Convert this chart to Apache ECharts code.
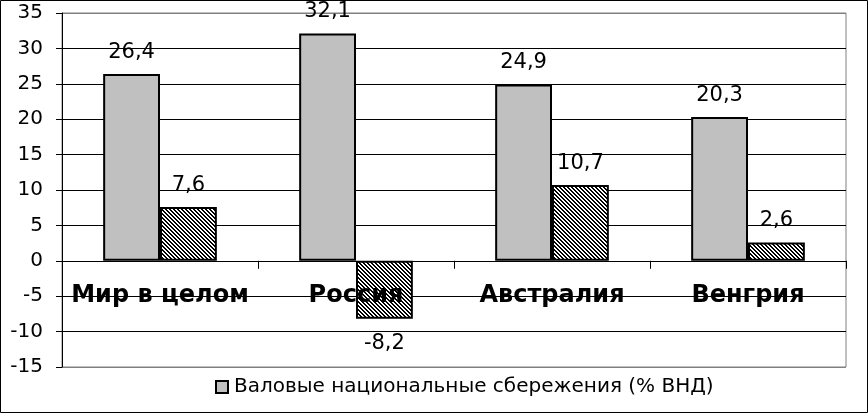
<!DOCTYPE html>
<html>
<head>
<meta charset="utf-8">
<script src="https://cdn.jsdelivr.net/npm/echarts@6/dist/echarts.min.js"></script>
<style>
html,body{margin:0;padding:0;background:#fff;}
#c{width:868px;height:413px;}
</style>
</head>
<body>
<div id="c"></div>
<script>
var categories = ['Мир в целом', 'Россия', 'Австралия', 'Венгрия'];
var grossSavings = [26.4, 32.1, 24.9, 20.3];
var netSavings = [7.6, -8.2, 10.7, 2.6];
var seriesNames = ['Валовые национальные сбережения (% ВНД)', 'Чистые национальные сбережения (% ВНД)'];
var categoryLabelLevel = -5;
var yMin = -15, yMax = 35, yStep = 5;

var FONT = '"DejaVu Sans", "Liberation Sans", Arial, sans-serif';

// hatch pattern: diagonal "\" lines
var pc = document.createElement('canvas');
pc.width = 4; pc.height = 4;
var pctx = pc.getContext('2d');
var img = pctx.createImageData(4, 4);
for (var y = 0; y < 4; y++) {
  for (var x = 0; x < 4; x++) {
    var m = ((x - y) % 4 + 4) % 4;
    var v = (m === 0 || m === 1) ? 0 : 255;
    var i = (y * 4 + x) * 4;
    img.data[i] = v; img.data[i+1] = v; img.data[i+2] = v; img.data[i+3] = 255;
  }
}
pctx.putImageData(img, 0, 0);

function fmt(p) { return String(p.value).replace('.', ','); }

var splitColors = [];
for (var k = yMin; k <= yMax; k += yStep) {
  splitColors.push((k === yMin || k === yMax) ? '#808080' : '#000000');
}

var chart = echarts.init(document.getElementById('c'));
chart.setOption({
  animation: false,
  textStyle: { fontFamily: FONT },
  grid: { left: 62, right: 22, top: 13, bottom: 46, show: true, borderColor: '#808080', borderWidth: 1 },
  legend: {
    data: [seriesNames[0]],
    bottom: 11,
    left: 210,
    itemWidth: 12, itemHeight: 12,
    itemGap: 6,
    icon: 'rect',
    textStyle: { fontSize: 20, color: '#000', fontFamily: FONT, padding: [0, 0, 0, 1] }
  },
  xAxis: {
    type: 'category',
    data: categories,
    axisLine: { onZero: true, lineStyle: { color: '#000', width: 1 } },
    axisTick: { show: true, length: 8, inside: false, lineStyle: { color: '#000' } },
    axisLabel: { show: false },
    splitLine: { show: false }
  },
  yAxis: {
    type: 'value',
    min: yMin, max: yMax, interval: yStep,
    axisLine: { show: true, lineStyle: { color: '#000', width: 1 } },
    axisTick: { show: true, length: 6, lineStyle: { color: '#000' } },
    axisLabel: { fontSize: 20, color: '#000', margin: 19, fontFamily: FONT },
    splitLine: { show: true, lineStyle: { color: splitColors, width: 1 } }
  },
  series: [
    {
      name: 'categoryLabels',
      type: 'scatter',
      z: 5,
      symbolSize: 0,
      silent: true,
      itemStyle: { opacity: 1 },
      data: categories.map(function (c) { return [c, categoryLabelLevel]; }),
      label: {
        show: true, position: 'inside', offset: [0, -4], opacity: 1,
        fontSize: 24, fontWeight: 'bold', color: '#000000', fontFamily: FONT,
        textBorderWidth: 0, textBorderColor: 'transparent',
        formatter: function (p) { return categories[p.dataIndex]; }
      },
      labelLayout: { hideOverlap: false }
    },
    {
      name: seriesNames[0],
      type: 'bar',
      z: 2,
      data: grossSavings,
      barGap: '0%',
      barCategoryGap: '42%',
      itemStyle: { color: '#c0c0c0', borderColor: '#000', borderWidth: 2 },
      label: { show: true, position: 'top', distance: 11, fontSize: 21, color: '#000', fontFamily: FONT, formatter: fmt }
    },
    {
      name: seriesNames[1],
      type: 'bar',
      z: 2,
      data: netSavings.map(function (v) {
        return v < 0 ? { value: v, label: { position: 'bottom', distance: 14 } } : v;
      }),
      itemStyle: { color: { image: pc, repeat: 'repeat' }, borderColor: '#000', borderWidth: 2 },
      label: { show: true, position: 'top', distance: 11, fontSize: 21, color: '#000', fontFamily: FONT, formatter: fmt }
    }
  ],
  graphic: [{
    type: 'rect',
    shape: { x: 0.5, y: 0.5, width: 867, height: 412 },
    style: { fill: 'none', stroke: '#000', lineWidth: 1 },
    silent: true, z: 100
  }]
});
</script>
</body>
</html>
